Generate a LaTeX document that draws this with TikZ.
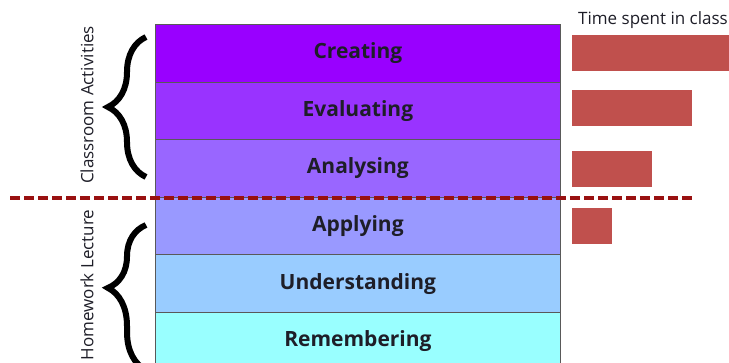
\documentclass[tikz,border=0pt]{standalone}
\usepackage{fontspec}
\setmainfont{Open Sans}
\usetikzlibrary{decorations.pathreplacing}
\definecolor{cCre}{HTML}{9900FF}
\definecolor{cEva}{HTML}{9933FF}
\definecolor{cAna}{HTML}{9966FF}
\definecolor{cApp}{HTML}{9999FF}
\definecolor{cUnd}{HTML}{99CCFF}
\definecolor{cRem}{HTML}{99FFFF}
\definecolor{barred}{HTML}{C0504D}
\definecolor{dashred}{HTML}{991111}
\definecolor{txt}{HTML}{1E1E28}
\tikzset{
  level/.style={draw=black!65, line width=0.8pt, minimum width=405pt, minimum height=57.6pt,
    inner sep=0pt, anchor=north west, font=\fontsize{21}{24}\selectfont\bfseries, text=txt},
  timebar/.style={fill=barred, draw=none, inner sep=0pt, anchor=north west, minimum height=36pt},
  sidelabel/.style={rotate=90, font=\fontsize{17}{19}\selectfont, text=txt},
  bigbrace/.style={decorate, line width=6pt, black},
  splitline/.style={dashed, dash pattern=on 10pt off 4pt, line width=3.5pt, dashred}
}
\begin{document}
\begin{tikzpicture}[x=1pt,y=-1pt]
\useasboundingbox (0,0) rectangle (729,363);
\node[level, fill=cCre] (cre) at (155,24) {Creating};
\node[level, fill=cEva] (eva) at (155,81.6) {Evaluating};
\node[level, fill=cAna] (ana) at (155,139.2) {Analysing};
\node[level, fill=cApp] (app) at (155,196.8) {Applying};
\node[level, fill=cUnd] (und) at (155,254.4) {Understanding};
\node[level, fill=cRem] (rem) at (155,312) {Remembering};

\node[font=\fontsize{17}{19}\selectfont, text=txt, anchor=base west, inner sep=0pt] (tsc) at (578,25) {Time spent in class};
\node[timebar, minimum width=160pt] (b1) at (572,35) {};
\node[timebar, minimum width=120pt] (b2) at (572,90) {};
\node[timebar, minimum width=80pt] (b3) at (572,150.5) {};
\node[timebar, minimum width=40pt] (b4) at (572,208) {};

\coordinate (dl) at (10,198);
\coordinate (dr) at (694,198);
\draw[splitline] (dl) -- (dr);

\coordinate (b1s) at (146,177);
\coordinate (b1e) at (146,37);
\draw[bigbrace, decoration={brace, amplitude=38pt}] (b1s) -- (b1e);
\coordinate (b2s) at (146,370);
\coordinate (b2e) at (146,225);
\draw[bigbrace, decoration={brace, amplitude=38pt, aspect=0.566}] (b2s) -- (b2e);

\node[sidelabel] (ca) at (87,105) {Classroom Activities};
\node[sidelabel] (hl) at (87,285) {Homework Lecture};
\end{tikzpicture}
\end{document}
